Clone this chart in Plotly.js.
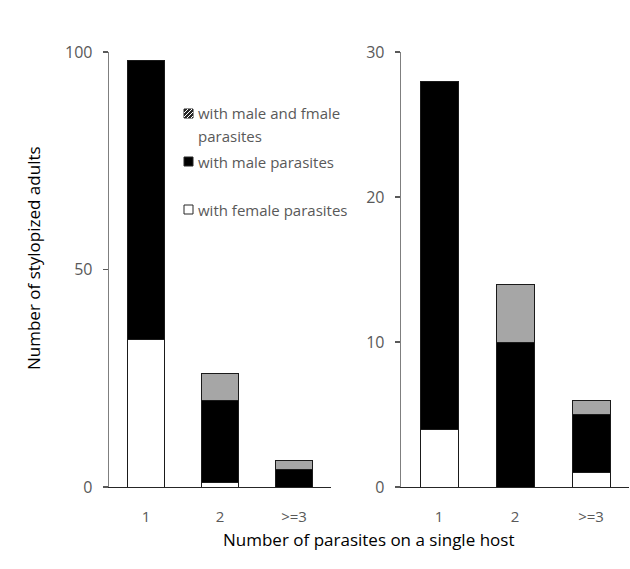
<!DOCTYPE html>
<html>
<head>
<meta charset="utf-8">
<script src="https://cdn.plot.ly/plotly-3.0.1.min.js"></script>
<style>html,body{margin:0;padding:0;background:#fff;}#chart{width:630px;height:569px;}</style>
</head>
<body>
<div id="chart"></div>
<script>
const categories = ["1", "2", ">=3"];
// Left panel
const leftFemale = [34, 1, 0];
const leftMale = [64, 19, 4];
const leftBoth = [0, 6, 2];
// Right panel
const rightFemale = [4, 0, 1];
const rightMale = [24, 10, 4];
const rightBoth = [0, 4, 1];

const legendLines = ["with male and fmale", "parasites", "with male parasites", "with female parasites"];
const xTitle = "Number of parasites on a single host";
const yTitle = "Number of stylopized adults";

const W = 630, H = 569;
const px = v => v / W;
const py = v => 1 - v / H;

const FONT = "Open Sans, Noto Sans, sans-serif";
const TXT = "#595959";
const GRAY = "#A6A6A6";
const EDGE = "#1a1a1a";

function bar(x, y, color, xa, ya) {
  return {type: "bar", x: x, y: y, xaxis: xa, yaxis: ya, showlegend: false,
    marker: {color: color, line: {color: EDGE, width: 1}}, hoverinfo: "x+y"};
}

const data = [
  bar(categories, leftFemale, "#ffffff", "x", "y"),
  bar(categories, leftMale, "#000000", "x", "y"),
  bar(categories, leftBoth, GRAY, "x", "y"),
  bar(categories, rightFemale, "#ffffff", "x2", "y2"),
  bar(categories, rightMale, "#000000", "x2", "y2"),
  bar(categories, rightBoth, GRAY, "x2", "y2")
];

const yDom = [(H - 487) / H, (H - 52) / H];
const xCommon = {type: "category", range: [-0.5, 2.5], showgrid: false, zeroline: false,
  showline: true, linecolor: "#262626", linewidth: 1.3, ticks: "", ticklabelstandoff: 16,
  tickfont: {family: FONT, size: 15, color: TXT}, fixedrange: true};
const yCommon = {showgrid: false, zeroline: false, showline: true, linecolor: "#7f7f7f", linewidth: 1.3,
  ticks: "outside", ticklen: 5, tickcolor: "#595959", tickwidth: 1.3, ticklabelstandoff: 7,
  tickfont: {family: FONT, size: 16, color: TXT}, domain: yDom, fixedrange: true};

const shapes = [];
const annotations = [];
// legend boxes
const boxY = [109, 157, 205];
const boxFill = ["#262626", "#000000", "#ffffff"];
for (let i = 0; i < 3; i++) {
  shapes.push({type: "rect", xref: "paper", yref: "paper", x0: px(184), x1: px(193), y0: py(boxY[i]), y1: py(boxY[i] + 9),
    fillcolor: boxFill[i], line: {color: "#262626", width: 1}});
}
// hatch lines on first box
[[184,113,188,109],[184,117,192,109],[187,118,193,112],[191,118,193,116]].forEach(s => {
  shapes.push({type: "line", xref: "paper", yref: "paper", x0: px(s[0]), y0: py(s[1]), x1: px(s[2]), y1: py(s[3]),
    line: {color: "#ffffff", width: 1}});
});
const labY = [113, 136, 162, 210];
for (let i = 0; i < legendLines.length; i++) {
  annotations.push({xref: "paper", yref: "paper", x: px(196), y: py(labY[i]), xanchor: "left", yanchor: "middle",
    align: "left", showarrow: false, text: legendLines[i], font: {family: FONT, size: 15, color: TXT}});
}
annotations.push({xref: "paper", yref: "paper", x: px(368), y: py(539), xanchor: "center", yanchor: "middle",
  showarrow: false, text: xTitle, font: {family: FONT, size: 17, color: "#000000"}});
annotations.push({xref: "paper", yref: "paper", x: px(33), y: py(258), xanchor: "center", yanchor: "middle",
  showarrow: false, textangle: -90, text: yTitle, font: {family: FONT, size: 17, color: "#000000"}});

const layout = {
  width: W, height: H, margin: {l: 0, r: 0, t: 0, b: 0},
  paper_bgcolor: "#ffffff", plot_bgcolor: "rgba(0,0,0,0)",
  barmode: "stack", bargap: 0.5, showlegend: false,
  xaxis: Object.assign({}, xCommon, {domain: [109 / W, 331 / W], anchor: "y"}),
  xaxis2: Object.assign({}, xCommon, {domain: [401 / W, 629 / W], anchor: "y2"}),
  yaxis: Object.assign({}, yCommon, {range: [0, 100], tickvals: [0, 50, 100], anchor: "x"}),
  yaxis2: Object.assign({}, yCommon, {range: [0, 30], tickvals: [0, 10, 20, 30], anchor: "x2"}),
  shapes: shapes, annotations: annotations
};

Plotly.newPlot("chart", data, layout, {displayModeBar: false, staticPlot: true});
</script>
</body>
</html>
